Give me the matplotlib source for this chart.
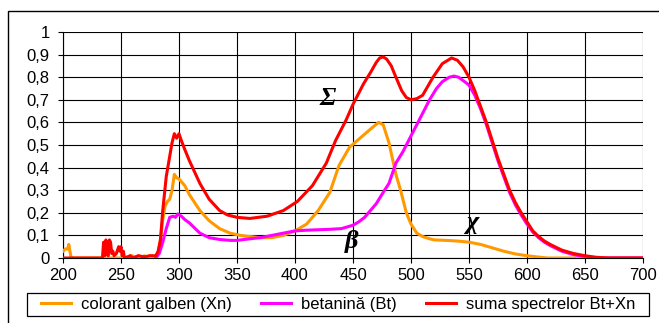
import matplotlib.pyplot as plt
from matplotlib.patches import Rectangle

# lungimi de unda (nm) si absorbante
x_xn = [200, 202, 204, 205, 206, 207, 208, 257, 258, 260, 262, 265, 268, 270, 272, 275, 278,
        280, 282, 284, 286, 288, 290, 292, 294, 296, 298, 300, 305, 309, 318, 326, 335, 344,
        353, 361, 370, 380, 390, 400, 410, 420, 430, 438, 447, 456, 465, 472, 476, 481, 487,
        491, 496, 500, 505, 510, 516, 520, 530, 540, 550, 560, 570, 580, 590, 600, 610, 618,
        650, 700]
y_xn = [0.03, 0.04, 0.04, 0.06, 0.03, 0.0, 0.0, 0.0, 0.01, 0.01, 0.0, 0.01, 0.0, 0.01, 0.005, 0.01, 0.005,
        0.01, 0.02, 0.08, 0.17, 0.23, 0.25, 0.26, 0.30, 0.37, 0.355, 0.35, 0.32, 0.28, 0.21, 0.165, 0.13, 0.11,
        0.10, 0.095, 0.09, 0.09, 0.10, 0.12, 0.15, 0.21, 0.29, 0.41, 0.49, 0.53, 0.57, 0.60, 0.59, 0.51, 0.37,
        0.30, 0.20, 0.15, 0.11, 0.095, 0.085, 0.08, 0.078, 0.075, 0.07, 0.06, 0.045, 0.03, 0.018, 0.01, 0.004, 0.0,
        0.0, 0.0]

x_bt = [280, 283, 286, 289, 292, 295, 297, 299, 302, 305, 309, 318, 326, 335, 344, 350,
        361, 370, 380, 390, 400, 410, 420, 430, 440, 450, 455, 460, 465, 470, 476, 481, 487, 493,
        499, 505, 510, 516, 522, 527, 533, 537, 541, 545, 550, 555, 560, 565, 570, 575, 580, 585,
        590, 595, 600, 605, 610, 615, 620, 630, 640, 650, 660, 700]
y_bt = [0.0, 0.02, 0.07, 0.13, 0.18, 0.185, 0.18, 0.195, 0.185, 0.17, 0.155, 0.11, 0.09, 0.082, 0.078, 0.078,
        0.085, 0.09, 0.10, 0.11, 0.12, 0.123, 0.125, 0.127, 0.13, 0.145, 0.16, 0.18, 0.21, 0.24, 0.29, 0.33, 0.42, 0.47,
        0.53, 0.59, 0.64, 0.70, 0.75, 0.78, 0.80, 0.805, 0.80, 0.785, 0.765, 0.72, 0.66, 0.59, 0.51, 0.43, 0.36, 0.29,
        0.235, 0.19, 0.15, 0.115, 0.09, 0.07, 0.055, 0.03, 0.015, 0.006, 0.0, 0.0]

x_sum = [200, 234, 235, 236, 237, 238, 239, 240, 241, 242, 243, 244, 246, 248, 249, 250, 251, 252, 253,
         258, 260, 265, 270, 275, 280, 282, 284, 286, 289, 292, 294, 296, 298, 300, 302, 305, 309,
         318, 326, 335, 342, 350, 361, 376, 390, 402, 415, 427, 435, 444, 450, 459, 465, 470, 473,
         476, 479, 483, 487, 492, 496, 500, 505, 510, 519, 527, 535, 540, 545, 550, 555,
         560, 565, 570, 575, 580, 585, 590, 595, 600, 605, 610, 615, 620, 630, 640, 650, 660, 670, 700]
y_sum = [0.0, 0.0, 0.07, 0.01, 0.08, 0.02, 0.01, 0.08, 0.07, 0.02, 0.03, 0.01, 0.02, 0.05, 0.03, 0.05, 0.01, 0.03, 0.0,
         0.01, 0.0, 0.01, 0.005, 0.01, 0.01, 0.03, 0.08, 0.21, 0.36, 0.45, 0.51, 0.55, 0.53, 0.55, 0.52, 0.48, 0.43,
         0.33, 0.26, 0.21, 0.19, 0.18, 0.175, 0.185, 0.21, 0.25, 0.32, 0.42, 0.52, 0.61, 0.68, 0.77, 0.82, 0.865, 0.885,
         0.89, 0.88, 0.85, 0.80, 0.74, 0.71, 0.70, 0.705, 0.72, 0.80, 0.86, 0.885, 0.875, 0.845, 0.80, 0.74,
         0.67, 0.60, 0.52, 0.44, 0.37, 0.30, 0.245, 0.20, 0.16, 0.12, 0.095, 0.075, 0.06, 0.035, 0.02, 0.01, 0.003, 0.0, 0.0]

xticks = list(range(200, 701, 50))
yticks = [i / 10 for i in range(11)]
ylabels = ['0'] + ['0,%d' % i for i in range(1, 10)] + ['1']

plt.rcParams['font.family'] = ['Liberation Sans', 'DejaVu Sans']

fig = plt.figure(figsize=(6.59, 3.23), dpi=100)
ax = fig.add_axes([63 / 659, 65 / 323, 580 / 659, 226 / 323])

ax.plot(x_xn, y_xn, color='#ff9900', lw=2.2, label='colorant galben (Xn)', zorder=3)
ax.plot(x_bt, y_bt, color='#ff00ff', lw=2.2, label='betanină (Bt)', zorder=4)
ax.plot(x_sum, y_sum, color='#ff0000', lw=2.2, label='suma spectrelor Bt+Xn', zorder=5)

ax.set_xlim(200, 700)
ax.set_ylim(0, 1)
ax.set_xticks(xticks)
ax.set_yticks(yticks)
ax.set_yticklabels(ylabels)
ax.grid(True, color='black', lw=0.8)
for s in ['top', 'right']:
    ax.spines[s].set_visible(False)
ax.tick_params(labelsize=12, length=3.6, width=0.8, direction='out')
ax.tick_params(axis='x', pad=3.5)
ax.tick_params(axis='y', pad=6)

# litere grecesti
gk = dict(fontsize=19, fontweight='bold', fontstyle='italic',
          family=['Liberation Serif', 'DejaVu Serif'], ha='center', va='center', zorder=6)
ax.text(428, 0.707, 'Σ', **gk)
ax.text(449, 0.075, 'β', **gk)
ax.text(553, 0.155, 'χ', **gk)

# chenarul exterior
fig.patches.append(Rectangle((8 / 659, -0.1), 1.0, 0.966 + 0.1, transform=fig.transFigure,
                             fill=False, edgecolor='black', lw=1.0))

# chenarul legendei
fig.patches.append(Rectangle((27 / 659, 1 - 316 / 323), 622 / 659, 23 / 323, transform=fig.transFigure,
                             fill=False, edgecolor='black', lw=0.9))
leg = fig.legend(loc='center', ncol=3, fontsize=12, frameon=False,
                 bbox_to_anchor=(338.5 / 659, 1 - 304.5 / 323),
                 handlelength=1.8, handletextpad=0.6, borderaxespad=0,
                 borderpad=0.1, columnspacing=1.75)

plt.savefig('out.png', dpi=100)
